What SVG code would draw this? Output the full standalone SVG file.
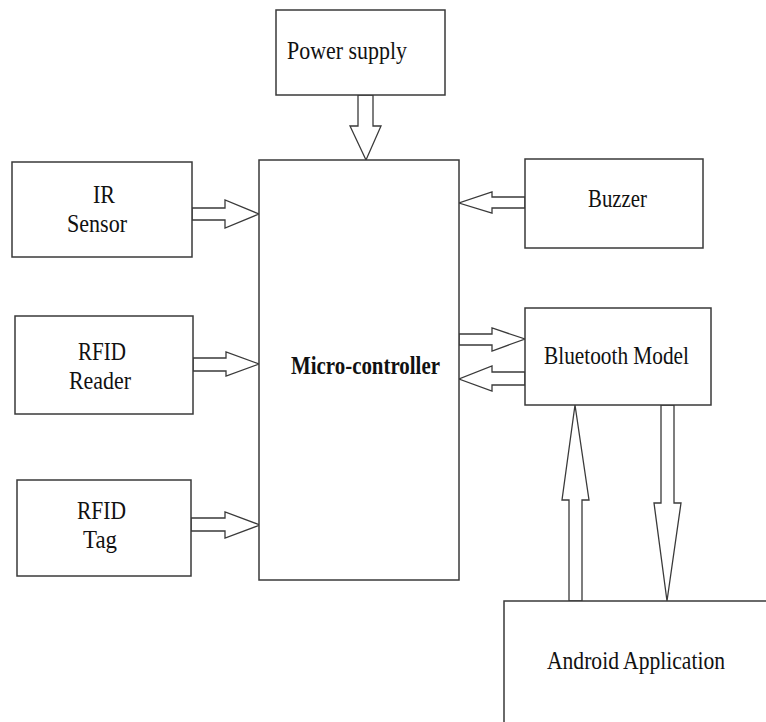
<svg xmlns="http://www.w3.org/2000/svg" width="766" height="722" viewBox="0 0 766 722">
<style>
.box{fill:#fff;stroke:#3a3a3a;stroke-width:1.5}
.arr{fill:#fff;stroke:#3a3a3a;stroke-width:1.3;stroke-linejoin:miter}
.t{font-family:"Liberation Serif","Times New Roman",serif;font-size:25px;fill:#111}
.b{font-weight:bold}
</style>
<rect width="766" height="722" fill="#fff"/>
<g id="connectors">
<polygon class="arr" points="358,95 373,95 373,126 381,126 366,160 350,126 358,126"/>
<polygon class="arr" points="192,208 225,208 225,200 259,214 225,228 225,220 192,220"/>
<polygon class="arr" points="193,358 226,358 226,352 259,364 226,376 226,371 193,371"/>
<polygon class="arr" points="191,518 225,518 225,512 260,525 225,538 225,531 191,531"/>
<polygon class="arr" points="525,197 492,197 492,192 459,203 492,213 492,208 525,208"/>
<polygon class="arr" points="459,334 492,334 492,328 525,339 492,351 492,345 459,345"/>
<polygon class="arr" points="525,372 492,372 492,366 459,379 492,391 492,385 525,385"/>
<polygon class="arr" points="569,601 569,500 562,500 575,405 589,500 582,500 582,601"/>
<polygon class="arr" points="661,405 674,405 674,503 681,503 667,601 654,503 661,503"/>
</g>
<g id="power">
<rect class="box" x="276" y="10" width="169" height="85"/>
<text class="t" x="287" y="59" textLength="120" lengthAdjust="spacingAndGlyphs">Power supply</text>
</g>
<g id="micro">
<rect class="box" x="259" y="160" width="200" height="420"/>
<text class="t b" x="291" y="374" textLength="149" lengthAdjust="spacingAndGlyphs">Micro-controller</text>
</g>
<g id="ir">
<rect class="box" x="12" y="162" width="180" height="95"/>
<text class="t" x="93" y="203" textLength="22" lengthAdjust="spacingAndGlyphs">IR</text>
<text class="t" x="67" y="232" textLength="60" lengthAdjust="spacingAndGlyphs">Sensor</text>
</g>
<g id="rfid-reader">
<rect class="box" x="15" y="316" width="178" height="98"/>
<text class="t" x="78" y="360" textLength="48" lengthAdjust="spacingAndGlyphs">RFID</text>
<text class="t" x="69" y="389" textLength="62" lengthAdjust="spacingAndGlyphs">Reader</text>
</g>
<g id="rfid-tag">
<rect class="box" x="17" y="480" width="174" height="96"/>
<text class="t" x="77" y="519" textLength="49" lengthAdjust="spacingAndGlyphs">RFID</text>
<text class="t" x="83" y="548" textLength="34" lengthAdjust="spacingAndGlyphs">Tag</text>
</g>
<g id="buzzer">
<rect class="box" x="525" y="159" width="178" height="89"/>
<text class="t" x="588" y="207" textLength="59" lengthAdjust="spacingAndGlyphs">Buzzer</text>
</g>
<g id="bluetooth">
<rect class="box" x="525" y="308" width="186" height="97"/>
<text class="t" x="544" y="364" textLength="145" lengthAdjust="spacingAndGlyphs">Bluetooth Model</text>
</g>
<g id="android">
<rect class="box" x="504" y="601" width="300" height="200"/>
<text class="t" x="547" y="669" textLength="178" lengthAdjust="spacingAndGlyphs">Android Application</text>
</g>
</svg>
